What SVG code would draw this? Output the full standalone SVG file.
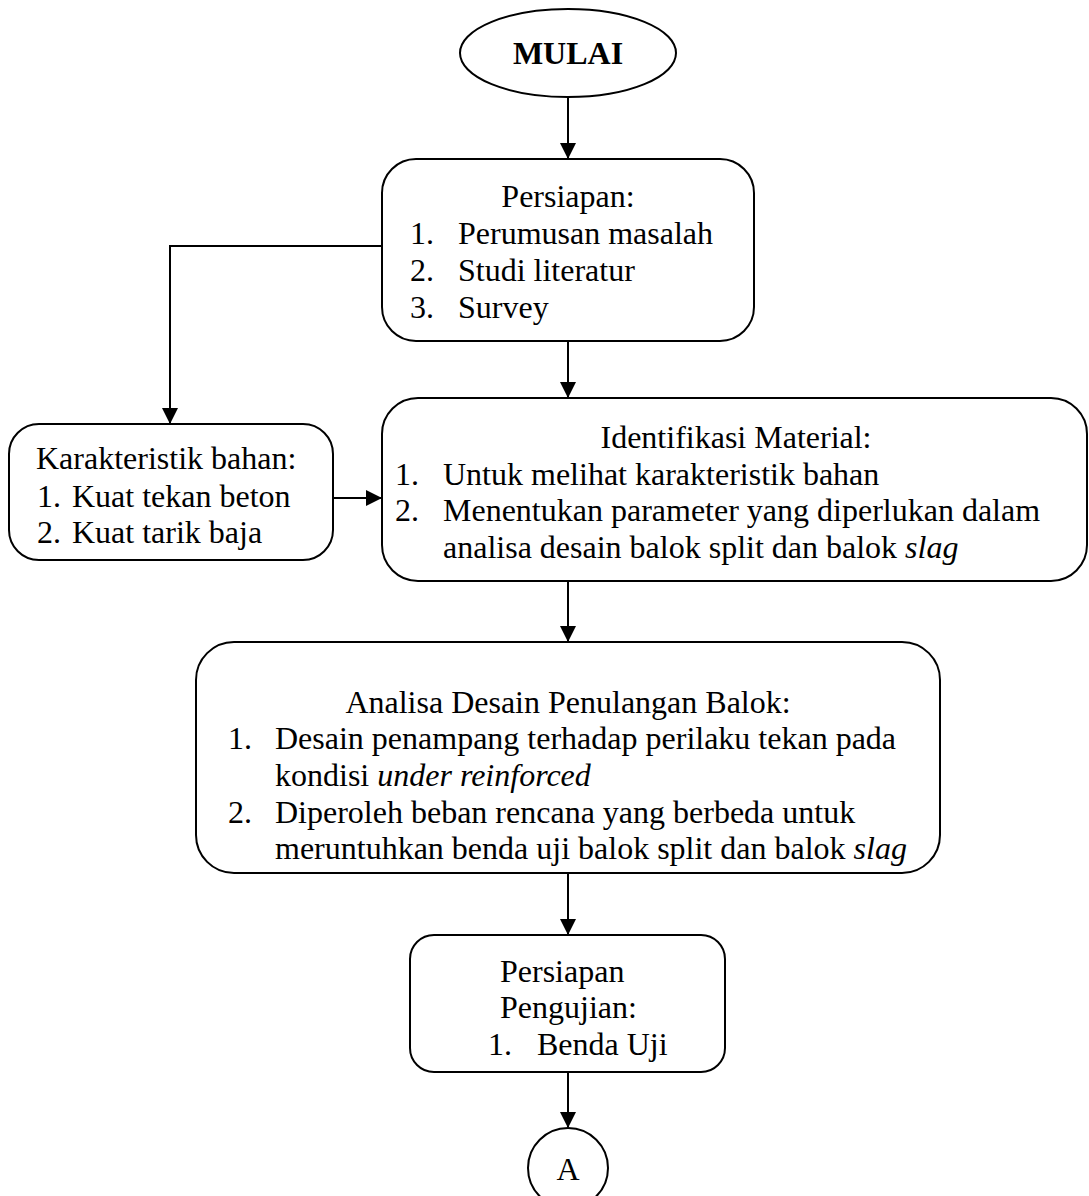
<svg xmlns="http://www.w3.org/2000/svg" width="1089" height="1196" viewBox="0 0 1089 1196">
<defs>
<style>
.box{fill:#fff;stroke:#000;stroke-width:2}
.ln{fill:none;stroke:#000;stroke-width:2}
text{font-family:"Liberation Serif","Times New Roman",serif;font-size:32px;fill:#000}
.c{text-anchor:middle}
.b{font-weight:bold}
.i{font-style:italic}
</style>
<marker id="ah" markerWidth="16" markerHeight="16" viewBox="0 0 16 16" refX="15" refY="8" orient="auto" markerUnits="userSpaceOnUse">
<path d="M0,0 L16,8 L0,16 Z" fill="#000"/>
</marker>
</defs>
<rect width="1089" height="1196" fill="#fff"/>
<g id="connectors">
<line class="ln" x1="568" y1="97" x2="568" y2="158" marker-end="url(#ah)"/>
<polyline class="ln" points="382,246 170,246 170,423" marker-end="url(#ah)"/>
<line class="ln" x1="568" y1="341" x2="568" y2="397" marker-end="url(#ah)"/>
<line class="ln" x1="333" y1="498" x2="381" y2="498" marker-end="url(#ah)"/>
<line class="ln" x1="568" y1="581" x2="568" y2="641" marker-end="url(#ah)"/>
<line class="ln" x1="568" y1="873" x2="568" y2="934" marker-end="url(#ah)"/>
<line class="ln" x1="568" y1="1072" x2="568" y2="1127" marker-end="url(#ah)"/>
</g>
<g id="mulai">
<ellipse class="box" cx="568" cy="53" rx="108" ry="44"/>
<text class="c b" x="568" y="64">MULAI</text>
</g>
<g id="persiapan">
<rect class="box" x="382" y="159" width="372" height="182" rx="34"/>
<text class="c" x="568" y="207">Persiapan:</text>
<text x="410" y="244">1.</text><text x="458" y="244">Perumusan masalah</text>
<text x="410" y="281">2.</text><text x="458" y="281">Studi literatur</text>
<text x="410" y="318">3.</text><text x="458" y="318">Survey</text>
</g>
<g id="karakteristik">
<rect class="box" x="9" y="424" width="324" height="136" rx="30"/>
<text x="36" y="469">Karakteristik bahan:</text>
<text x="37" y="507">1.</text><text x="72" y="507">Kuat tekan beton</text>
<text x="37" y="543">2.</text><text x="72" y="543">Kuat tarik baja</text>
</g>
<g id="identifikasi">
<rect class="box" x="382" y="398" width="705" height="183" rx="36"/>
<text class="c" x="736" y="448">Identifikasi Material:</text>
<text x="395" y="485">1.</text><text x="443" y="485">Untuk melihat karakteristik bahan</text>
<text x="395" y="521">2.</text><text x="443" y="521">Menentukan parameter yang diperlukan dalam</text>
<text x="443" y="558">analisa desain balok split dan balok <tspan class="i">slag</tspan></text>
</g>
<g id="analisa">
<rect class="box" x="196" y="642" width="744" height="231" rx="38"/>
<text class="c" x="568" y="713">Analisa Desain Penulangan Balok:</text>
<text x="228" y="749">1.</text><text x="275" y="749">Desain penampang terhadap perilaku tekan pada</text>
<text x="275" y="786">kondisi <tspan class="i">under reinforced</tspan></text>
<text x="228" y="823">2.</text><text x="275" y="823">Diperoleh beban rencana yang berbeda untuk</text>
<text x="275" y="859">meruntuhkan benda uji balok split dan balok <tspan class="i">slag</tspan></text>
</g>
<g id="pengujian">
<rect class="box" x="410" y="935" width="315" height="137" rx="24"/>
<text x="500" y="982">Persiapan</text>
<text x="500" y="1018">Pengujian:</text>
<text x="488" y="1055">1.</text><text x="537" y="1055">Benda Uji</text>
</g>
<g id="a">
<ellipse class="box" cx="568" cy="1168" rx="40" ry="40"/>
<text class="c" x="568" y="1180">A</text>
</g>
</svg>
